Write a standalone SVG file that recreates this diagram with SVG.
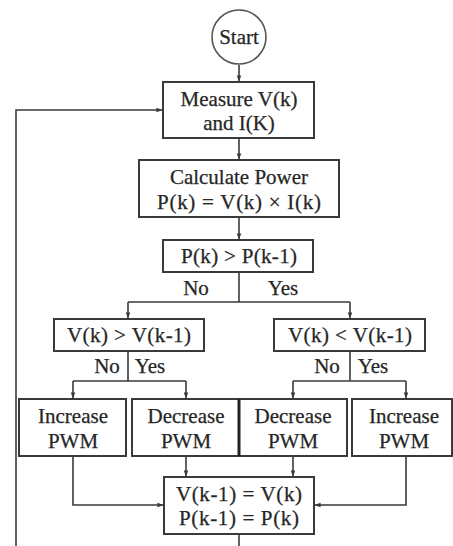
<svg xmlns="http://www.w3.org/2000/svg" width="453" height="546" viewBox="0 0 453 546">
<defs>
<style>
.box{fill:#fff;stroke:#3a3a3a;stroke-width:2}
.ln{fill:none;stroke:#3a3a3a;stroke-width:1.6}
.t{font-family:"Liberation Serif","Times New Roman",serif;font-size:21px;fill:#262626;text-anchor:middle;stroke:#262626;stroke-width:0.25}
</style>
<marker id="ah" viewBox="0 0 8 8" refX="7.5" refY="4" markerWidth="6" markerHeight="6" orient="auto" markerUnits="userSpaceOnUse">
<path d="M0,1 L8,4 L0,7 Z" fill="#3a3a3a"/>
</marker>
</defs>
<rect width="453" height="546" fill="#fff"/>
<g id="connectors">
<path class="ln" d="M239,65 V81" marker-end="url(#ah)"/>
<path class="ln" d="M239,138 V159" marker-end="url(#ah)"/>
<path class="ln" d="M239,217 V239" marker-end="url(#ah)"/>
<path class="ln" d="M239,272 V302"/>
<path class="ln" d="M128,302 H350"/>
<path class="ln" d="M128,302 V318" marker-end="url(#ah)"/>
<path class="ln" d="M350,302 V318" marker-end="url(#ah)"/>
<path class="ln" d="M128,351 V381"/>
<path class="ln" d="M73,381 H186"/>
<path class="ln" d="M73,381 V398" marker-end="url(#ah)"/>
<path class="ln" d="M186,381 V398" marker-end="url(#ah)"/>
<path class="ln" d="M350,351 V381"/>
<path class="ln" d="M293,381 H406"/>
<path class="ln" d="M293,381 V398" marker-end="url(#ah)"/>
<path class="ln" d="M406,381 V398" marker-end="url(#ah)"/>
<path class="ln" d="M186,456 V476" marker-end="url(#ah)"/>
<path class="ln" d="M293,456 V476" marker-end="url(#ah)"/>
<path class="ln" d="M73,456 V505 H163" marker-end="url(#ah)"/>
<path class="ln" d="M406,456 V505 H315" marker-end="url(#ah)"/>
<path class="ln" d="M239,534 V546"/>
<path class="ln" d="M16,546 V110 H162" marker-end="url(#ah)"/>
</g>
<g id="start">
<circle cx="239" cy="37" r="27" fill="#fff" stroke="#555" stroke-width="1.6"/>
<text class="t" x="239" y="44">Start</text>
</g>
<g id="measure">
<rect class="box" x="163" y="82" width="151" height="56"/>
<text class="t" x="239" y="106">Measure V(k)</text>
<text class="t" x="239" y="130">and I(K)</text>
</g>
<g id="calc">
<rect class="box" x="139" y="160" width="200" height="57"/>
<text class="t" x="239" y="184">Calculate Power</text>
<text class="t" x="239" y="209" textLength="164" lengthAdjust="spacing">P(k) = V(k) × I(k)</text>
</g>
<g id="cmpP">
<rect class="box" x="163" y="240" width="150" height="32"/>
<text class="t" x="239" y="263" textLength="116" lengthAdjust="spacing">P(k) &gt; P(k-1)</text>
<text class="t" x="196" y="295">No</text>
<text class="t" x="283" y="295">Yes</text>
</g>
<g id="cmpV1">
<rect class="box" x="54" y="319" width="150" height="32"/>
<text class="t" x="129" y="342" textLength="124" lengthAdjust="spacing">V(k) &gt; V(k-1)</text>
<text class="t" x="107" y="373">No</text>
<text class="t" x="150" y="373">Yes</text>
</g>
<g id="cmpV2">
<rect class="box" x="274" y="319" width="151" height="32"/>
<text class="t" x="350" y="342" textLength="124" lengthAdjust="spacing">V(k) &lt; V(k-1)</text>
<text class="t" x="327" y="373">No</text>
<text class="t" x="373" y="373">Yes</text>
</g>
<g id="incA">
<rect class="box" x="19" y="399" width="107" height="57"/>
<text class="t" x="73" y="423">Increase</text>
<text class="t" x="73" y="448">PWM</text>
</g>
<g id="decB">
<rect class="box" x="132" y="399" width="107" height="57"/>
<text class="t" x="186" y="423">Decrease</text>
<text class="t" x="186" y="448">PWM</text>
</g>
<g id="decC">
<rect class="box" x="239" y="399" width="108" height="57"/>
<line x1="239" y1="399" x2="239" y2="456" stroke="#222" stroke-width="3"/>
<text class="t" x="293" y="423">Decrease</text>
<text class="t" x="293" y="448">PWM</text>
</g>
<g id="incD">
<rect class="box" x="352" y="399" width="100" height="57"/>
<text class="t" x="404" y="423">Increase</text>
<text class="t" x="404" y="448">PWM</text>
</g>
<g id="update">
<rect class="box" x="164" y="477" width="150" height="57"/>
<text class="t" x="239" y="501" textLength="126" lengthAdjust="spacing">V(k-1) = V(k)</text>
<text class="t" x="239" y="525" textLength="120" lengthAdjust="spacing">P(k-1) = P(k)</text>
</g>
</svg>
